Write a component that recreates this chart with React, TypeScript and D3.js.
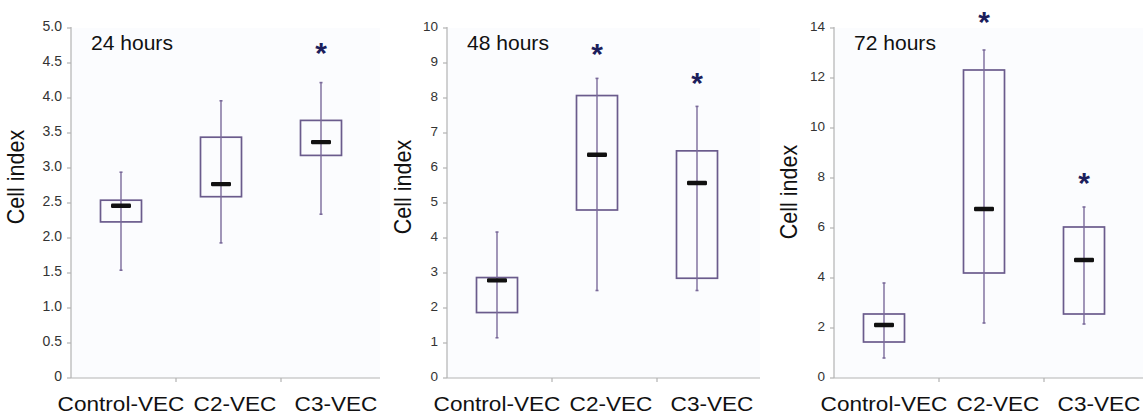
import React from "react";
import * as d3 from "d3";

const categories = ["Control-VEC", "C2-VEC", "C3-VEC"];

// [whiskerLow, boxLow, median, boxHigh, whiskerHigh]
const box24h = [
  [1.54, 2.23, 2.46, 2.54, 2.94],
  [1.93, 2.59, 2.77, 3.44, 3.96],
  [2.34, 3.18, 3.37, 3.68, 4.22],
];
const box48h = [
  [1.15, 1.87, 2.79, 2.87, 4.17],
  [2.5, 4.8, 6.38, 8.07, 8.56],
  [2.5, 2.85, 5.57, 6.49, 7.76],
];
const box72h = [
  [0.8, 1.44, 2.12, 2.56, 3.8],
  [2.2, 4.2, 6.76, 12.32, 13.12],
  [2.16, 2.56, 4.72, 6.04, 6.84],
];

// significance stars: [category, y]
const stars24h: [string, number][] = [["C3-VEC", 4.71]];
const stars48h: [string, number][] = [["C2-VEC", 9.4], ["C3-VEC", 8.56]];
const stars72h: [string, number][] = [["C2-VEC", 14.44], ["C3-VEC", 8.0]];

const ticks24h = [0, 0.5, 1.0, 1.5, 2.0, 2.5, 3.0, 3.5, 4.0, 4.5, 5.0];
const ticks48h = [0, 1, 2, 3, 4, 5, 6, 7, 8, 9, 10];
const ticks72h = [0, 2, 4, 6, 8, 10, 12, 14];

const titles = ["24 hours", "48 hours", "72 hours"];

const FONT = "'Liberation Sans', Arial, Helvetica, sans-serif";
const AXIS = "#b3b3b3";
const BOX = "#6a5b8c";
const WHISK = "#7a6a9a";
const STAR = "#1c1f5c";

type PanelProps = {
  axisX: number;
  endX: number;
  yMax: number;
  ticks: number[];
  fmt: (v: number) => string;
  tickFont: number;
  data: number[][];
  stars: [string, number][];
  title: string;
  labelX: number;
  labelY: number;
};

function Panel(p: PanelProps) {
  const top = 28;
  const bottom = 378;
  const y = d3.scaleLinear().domain([0, p.yMax]).range([bottom, top]);
  const xc = d3.scalePoint<string>().domain(categories).range([p.axisX + 50, p.axisX + 250]);
  const xb = d3.scaleBand<string>().domain(categories).range([p.axisX, p.axisX + 315]);
  const labelDx = [0, 14, 15];
  const boxW = 41;
  const medW = 20;
  const capW = 3;
  return (
    <g>
      <rect x={p.axisX} y={top} width={p.endX - p.axisX} height={bottom - top} fill="#fbfcfe" />
      {/* y axis */}
      <line x1={p.axisX} x2={p.axisX} y1={top - 1} y2={bottom} stroke={AXIS} strokeWidth={1.2} />
      {p.ticks.map((t) => (
        <g key={t}>
          <line x1={p.axisX - 4} x2={p.axisX} y1={y(t)} y2={y(t)} stroke={AXIS} strokeWidth={1.2} />
          <text
            x={p.axisX - 9}
            y={y(t) - 2}
            dy="0.35em"
            textAnchor="end"
            fontSize={p.tickFont}
            fill="#333"
            fontFamily={FONT}
          >
            {p.fmt(t)}
          </text>
        </g>
      ))}
      {/* x axis */}
      <line x1={p.axisX} x2={p.endX} y1={bottom} y2={bottom} stroke={AXIS} strokeWidth={1.2} />
      {categories.slice(1).map((c) => (
        <line key={c} x1={xb(c)!} x2={xb(c)!} y1={bottom} y2={bottom + 4} stroke={AXIS} strokeWidth={1.2} />
      ))}
      {categories.map((c, i) => (
        <text
          key={c}
          transform={`translate(${xc(c)! + labelDx[i]},411) scale(1.13,1)`}
          textAnchor="middle"
          fontSize={20}
          fill="#111"
          fontFamily={FONT}
        >
          {c}
        </text>
      ))}
      {/* boxes */}
      {p.data.map((d, i) => {
        const cx = xc(categories[i])!;
        const [wl, bl, med, bh, wh] = d;
        return (
          <g key={i}>
            <rect
              x={cx - boxW / 2}
              y={y(bh)}
              width={boxW}
              height={y(bl) - y(bh)}
              fill="none"
              stroke={BOX}
              strokeWidth={1.7}
            />
            <line x1={cx} x2={cx} y1={y(wh)} y2={y(wl)} stroke={WHISK} strokeWidth={1.4} />
            <line x1={cx - capW / 2} x2={cx + capW / 2} y1={y(wh)} y2={y(wh)} stroke={WHISK} strokeWidth={1.6} />
            <line x1={cx - capW / 2} x2={cx + capW / 2} y1={y(wl)} y2={y(wl)} stroke={WHISK} strokeWidth={1.6} />
            <rect x={cx - medW / 2} y={y(med) - 2.2} width={medW} height={4.4} rx={1.2} fill="#111" />
          </g>
        );
      })}
      {/* stars */}
      {p.stars.map(([c, v]) => (
        <text
          key={c}
          x={xc(c)!}
          y={y(v) + 15}
          textAnchor="middle"
          fontSize={30}
          fontWeight="bold"
          fill={STAR}
          fontFamily={FONT}
        >
          *
        </text>
      ))}
      {/* title */}
      <text
        transform={`translate(${p.axisX + 20},50) scale(1.08,1)`}
        fontSize={19.5}
        fill="#111"
        fontFamily={FONT}
      >
        {p.title}
      </text>
      {/* y label */}
      <text
        transform={`translate(${p.labelX},${p.labelY}) scale(1.1,1) rotate(-90)`}
        textAnchor="middle"
        fontSize={21.5}
        fill="#111"
        fontFamily={FONT}
      >
        Cell index
      </text>
    </g>
  );
}

export default function App() {
  const f1 = d3.format(".1f");
  const f0 = (v: number) => String(v);
  return (
    <div style={{ position: "absolute", left: 0, top: 0 }}>
      <svg width={1143} height={419} style={{ display: "block", background: "#fff" }}>
        <Panel
          axisX={71}
          endX={380}
          yMax={5}
          ticks={ticks24h}
          fmt={(v) => (v === 0 ? "0" : f1(v))}
          tickFont={14}
          data={box24h}
          stars={stars24h}
          title={titles[0]}
          labelX={24}
          labelY={177}
        />
        <Panel
          axisX={447}
          endX={760}
          yMax={10}
          ticks={ticks48h}
          fmt={f0}
          tickFont={13.5}
          data={box48h}
          stars={stars48h}
          title={titles[1]}
          labelX={411}
          labelY={187}
        />
        <Panel
          axisX={834}
          endX={1143}
          yMax={14}
          ticks={ticks72h}
          fmt={f0}
          tickFont={13.5}
          data={box72h}
          stars={stars72h}
          title={titles[2]}
          labelX={797}
          labelY={192}
        />
      </svg>
    </div>
  );
}
